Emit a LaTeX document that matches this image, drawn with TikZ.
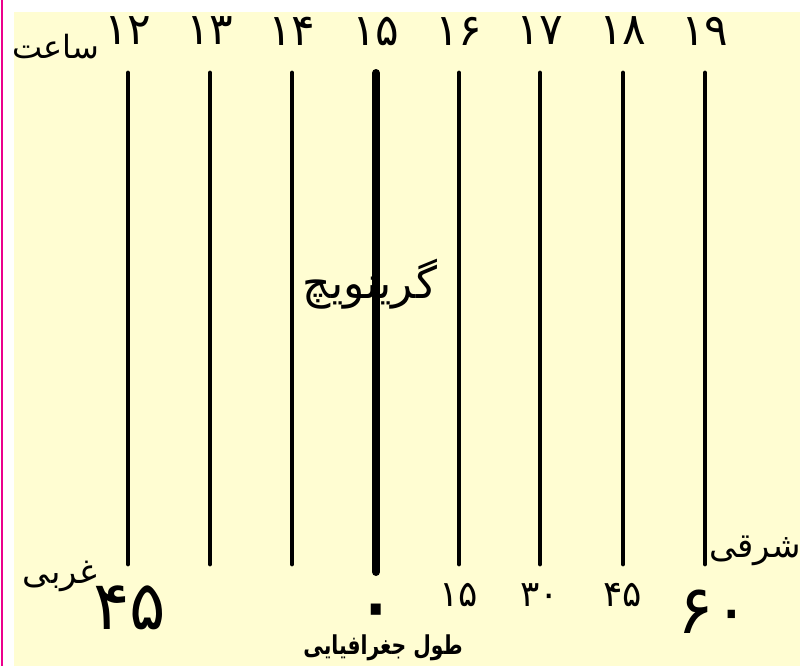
\documentclass[tikz,border=0pt]{standalone}
\usepackage{fontspec}
\usepackage{xcolor}
\newfontfamily\arabicfont[Script=Arabic]{DejaVu Sans}
\TeXXeTstate=1
\usetikzlibrary{positioning}
\definecolor{paper}{HTML}{FFFDD2}

\begin{document}
\begin{tikzpicture}[x=.5pt,y=-.5pt,
  meridian/.style={draw=black,line width=2.4pt,line cap=round},
  greenwich/.style={draw=black,line width=4pt,line cap=round},
  hour/.style={font=\arabicfont\fontsize{22}{24}\selectfont,inner sep=0pt},
  degree/.style={font=\arabicfont\fontsize{18}{20}\selectfont,inner sep=0pt},
  bigdeg/.style={font=\arabicfont\fontsize{34}{36}\selectfont,inner sep=0pt},
  word/.style={font=\arabicfont\fontsize{16}{20}\selectfont,inner sep=0pt}
]
 \path[use as bounding box] (0,0) rectangle (800,666);
 \fill[paper] (14,12) rectangle (800,666);
 \draw[magenta,line width=1.4pt] (2,0) -- (2,666);

 % hour meridians, one every 15 degrees
 \foreach \xx/\hr [count=\i] in {128/۱۲,210/۱۳,292/۱۴,376/۱۵,459/۱۶,540/۱۷,623/۱۸,705/۱۹} {
   \coordinate (top\i) at (\xx,73);
   \coordinate (bot\i) at (\xx,564);
   \draw[meridian] (top\i) -- (bot\i);
   \node[hour] (hour\i) at (\xx,31) {\hr};
 }
 % Greenwich is drawn heavier and a bit longer
 \coordinate (gtop) at (376,73);
 \coordinate (gbot) at (376,572);
 \draw[greenwich] (gtop) -- (gbot);

 \node[word] (saat) at (56,47) {\beginR ساعت\endR};
 \node[word,font=\arabicfont\fontsize{22}{24}\selectfont] (grw) at (370,284) {\beginR گرینویچ\endR};
 \node[word,font=\arabicfont\fontsize{17}{20}\selectfont] (west) at (60,576) {\beginR غربی\endR};
 \node[word,font=\arabicfont\fontsize{17}{20}\selectfont] (east) at (755,551) {\beginR شرقی\endR};

 % longitude in degrees under the meridians
 \node[bigdeg] (w45) at (130,608) {۴۵};
 \node[bigdeg,font=\arabicfont\fontsize{46}{48}\selectfont] (zero) at (376,620) {۰};
 \foreach \xx/\dg in {459/۱۵,540/۳۰,623/۴۵}
   \node[degree] (deg\dg) at (\xx,595) {\dg};
 \node[bigdeg] (e60) at (714,612) {۶۰};

 \node[word,font=\arabicfont\bfseries\fontsize{13}{16}\selectfont] (lon) at (383,648)
   {\scalebox{.78}[1]{\beginR طول جغرافیایی\endR}};
\end{tikzpicture}
\end{document}
